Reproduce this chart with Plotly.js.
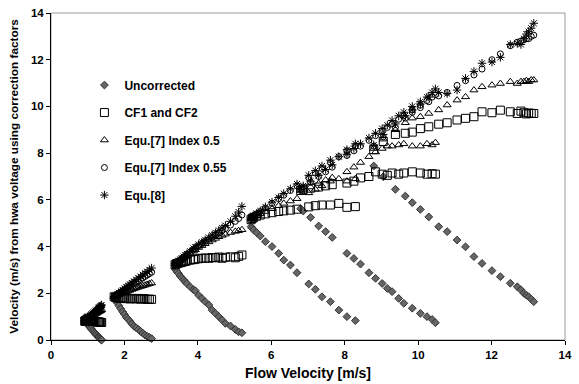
<!DOCTYPE html>
<html><head><meta charset="utf-8">
<script src="https://cdn.plot.ly/plotly-3.0.1.min.js"></script>
<style>html,body{margin:0;padding:0;background:#fff}#chart{width:579px;height:384px}</style>
</head><body><div id="chart"></div>
<script>
// Flow velocity (x) per run, and the five derived velocities per run
const flow1 = [0.92,0.93,0.94,0.95,0.96,0.97,0.98,0.99,1.00,1.02,1.04,1.06,1.08,1.10,1.13,1.16,1.19,1.22,1.25,1.28,1.30,1.32,1.34,1.36,1.38];
const unc1  = [0.96,0.95,0.93,0.92,0.88,0.84,0.80,0.75,0.70,0.64,0.59,0.55,0.51,0.47,0.41,0.35,0.30,0.25,0.20,0.15,0.12,0.09,0.05,0.02,0.00];
const cf1   = [0.80,0.81,0.82,0.82,0.83,0.83,0.84,0.84,0.84,0.85,0.84,0.84,0.83,0.83,0.82,0.81,0.80,0.79,0.78,0.77,0.77,0.76,0.76,0.75,0.75];
const tri1  = [0.84,0.85,0.86,0.86,0.87,0.88,0.89,0.90,0.91,0.93,0.95,0.97,0.99,1.01,1.04,1.07,1.10,1.13,1.16,1.19,1.21,1.23,1.25,1.27,1.29];
const circ1 = [0.85,0.86,0.87,0.87,0.88,0.89,0.90,0.92,0.93,0.96,0.99,1.02,1.05,1.08,1.12,1.16,1.20,1.24,1.28,1.32,1.34,1.37,1.40,1.42,1.44];
const eq8_1 = [0.85,0.86,0.87,0.88,0.89,0.90,0.91,0.93,0.94,0.97,1.00,1.03,1.06,1.10,1.14,1.18,1.22,1.26,1.30,1.35,1.38,1.41,1.44,1.47,1.50];

const flow2 = [1.72,1.76,1.80,1.85,1.90,1.95,2.00,2.05,2.10,2.15,2.20,2.26,2.32,2.38,2.44,2.50,2.56,2.62,2.68,2.74];
const unc2  = [1.78,1.70,1.60,1.47,1.34,1.21,1.10,0.97,0.89,0.80,0.69,0.59,0.52,0.45,0.37,0.29,0.22,0.16,0.11,0.06];
const cf2   = [1.85,1.82,1.80,1.79,1.80,1.78,1.79,1.77,1.78,1.76,1.78,1.77,1.76,1.78,1.75,1.77,1.76,1.74,1.75,1.74];
const tri2  = [1.85,1.88,1.91,1.94,1.97,2.00,2.03,2.07,2.10,2.13,2.16,2.20,2.23,2.26,2.29,2.32,2.35,2.38,2.41,2.44];
const circ2 = [1.86,1.90,1.95,2.00,2.05,2.10,2.15,2.20,2.25,2.30,2.36,2.42,2.48,2.54,2.60,2.66,2.72,2.78,2.84,2.90];
const eq8_2 = [1.86,1.91,1.96,2.02,2.08,2.14,2.20,2.26,2.32,2.38,2.44,2.51,2.58,2.65,2.72,2.79,2.86,2.93,3.00,3.08];

const flow3 = [3.38,3.41,3.43,3.47,3.52,3.56,3.61,3.66,3.70,3.79,3.88,3.93,4.02,4.11,4.20,4.30,4.39,4.48,4.57,4.66,4.75,4.89,5.02,5.11,5.20];
const unc3  = [3.05,2.98,2.92,2.85,2.74,2.66,2.57,2.49,2.42,2.28,2.15,2.11,1.92,1.78,1.64,1.50,1.28,1.14,1.00,0.86,0.71,0.60,0.45,0.35,0.31];
const cf3   = [3.22,3.25,3.27,3.29,3.31,3.33,3.35,3.37,3.39,3.42,3.44,3.46,3.48,3.50,3.51,3.50,3.53,3.52,3.55,3.50,3.54,3.56,3.52,3.58,3.64];
const tri3  = [3.25,3.29,3.31,3.35,3.40,3.45,3.50,3.56,3.60,3.70,3.80,3.86,3.96,4.04,4.12,4.20,4.28,4.35,4.42,4.48,4.53,4.60,4.65,4.68,4.72];
const circ3 = [3.27,3.31,3.33,3.37,3.43,3.48,3.54,3.60,3.65,3.76,3.87,3.93,4.03,4.12,4.22,4.31,4.40,4.50,4.58,4.68,4.77,4.92,5.08,5.20,5.35];
const eq8_3 = [3.27,3.32,3.34,3.38,3.45,3.50,3.57,3.63,3.69,3.80,3.92,3.98,4.09,4.19,4.29,4.39,4.49,4.59,4.69,4.80,4.90,5.08,5.30,5.48,5.72];

const flow4 = [5.45,5.48,5.52,5.60,5.70,5.84,6.02,6.20,6.34,6.52,6.70,7.02,7.20,7.38,7.61,7.84,8.06,8.29];
const unc4  = [4.85,4.78,4.71,4.60,4.45,4.21,4.00,3.71,3.42,3.21,2.88,2.40,2.17,1.85,1.64,1.28,1.00,0.83];
const cf4   = [5.15,5.20,5.25,5.30,5.35,5.40,5.45,5.50,5.53,5.56,5.60,5.70,5.75,5.78,5.78,5.85,5.68,5.71];
const tri4  = [5.20,5.22,5.26,5.32,5.40,5.50,5.62,5.75,5.85,5.95,6.05,6.30,6.45,6.60,6.80,6.90,6.80,6.90];
const circ4 = [5.22,5.26,5.30,5.40,5.50,5.65,5.85,6.05,6.20,6.40,6.60,6.95,7.15,7.35,7.60,7.85,8.10,8.30];
const eq8_4 = [5.22,5.27,5.32,5.42,5.53,5.70,5.90,6.10,6.27,6.47,6.68,7.05,7.25,7.45,7.70,7.85,8.15,8.40];

const flow5 = [6.80,6.87,7.07,7.29,7.48,7.66,8.06,8.25,8.43,8.66,8.84,9.02,9.16,9.29,9.47,9.61,9.84,10.06,10.24,10.38,10.47];
const unc5  = [5.62,5.52,5.25,4.88,4.64,4.39,3.71,3.49,3.25,2.88,2.64,2.42,2.21,2.07,1.78,1.57,1.36,1.14,1.00,0.88,0.74];
const cf5   = [6.40,6.45,6.50,6.55,6.60,6.65,6.72,6.80,6.94,7.00,7.20,7.10,7.05,7.15,7.10,7.15,7.20,7.15,7.10,7.12,7.10];
const tri5  = [6.40,6.45,6.55,6.70,6.85,6.95,7.20,7.40,7.60,7.85,8.05,8.20,8.30,8.30,8.35,8.40,8.30,8.30,8.40,8.35,8.45];
const circ5 = [6.45,6.55,6.75,7.00,7.20,7.40,7.90,8.10,8.30,8.55,8.75,8.95,9.10,9.25,9.45,9.60,9.85,10.05,10.25,10.40,10.50];
const eq8_5 = [6.45,6.60,6.80,7.05,7.30,7.50,7.95,8.20,8.40,8.65,8.85,9.05,9.20,9.40,9.60,9.75,10.00,10.20,10.40,10.60,10.75];

const flow6 = [8.79,9.05,9.38,9.65,9.84,10.06,10.29,10.56,10.79,11.06,11.29,11.52,11.74,12.01,12.24,12.51,12.70,12.80,12.88,12.95,13.01,13.08,13.15];
const unc6  = [7.45,6.99,6.45,6.16,5.88,5.59,5.27,4.85,4.64,4.28,3.99,3.57,3.28,2.97,2.71,2.43,2.28,2.15,2.00,1.92,1.85,1.75,1.64];
const cf6   = [8.15,8.50,8.80,8.85,8.90,9.05,9.13,9.24,9.30,9.42,9.49,9.56,9.77,9.73,9.84,9.77,9.70,9.80,9.73,9.68,9.72,9.70,9.70];
const tri6  = [8.20,8.60,9.00,9.30,9.50,9.56,9.70,9.85,10.06,10.27,10.41,10.70,10.84,10.91,10.98,11.06,10.98,11.06,11.06,11.10,11.06,11.13,11.13];
const circ6 = [8.30,8.70,9.10,9.50,9.75,9.95,10.20,10.45,10.60,10.90,11.10,11.35,11.60,12.00,12.25,12.60,12.75,12.80,12.85,12.90,12.90,13.00,13.05];
const eq8_6 = [8.35,8.80,9.25,9.60,9.85,10.10,10.40,10.60,10.55,10.70,11.20,11.50,11.85,11.90,12.10,12.65,12.70,12.65,12.90,13.10,13.20,13.35,13.56];

const seriesNames = ['Uncorrected','CF1 and CF2','Equ.[7] Index 0.5','Equ.[7] Index 0.55','Equ.[8]'];
const xTicks = [0,2,4,6,8,10,12,14];
const yTicks = [0,2,4,6,8,10,12,14];

const flow = [].concat(flow1,flow2,flow3,flow4,flow5,flow6);
const ys = [
  [].concat(unc1,unc2,unc3,unc4,unc5,unc6),
  [].concat(cf1,cf2,cf3,cf4,cf5,cf6),
  [].concat(tri1,tri2,tri3,tri4,tri5,tri6),
  [].concat(circ1,circ2,circ3,circ4,circ5,circ6),
  [].concat(eq8_1,eq8_2,eq8_3,eq8_4,eq8_5,eq8_6)
];
const markers = [
  {symbol:'diamond', size:6, color:'#666666', line:{color:'#333333', width:1}},
  {symbol:'square-open', size:8, color:'#000000', line:{width:1}},
  {symbol:'triangle-up-open', size:7, color:'#000000', line:{width:1}},
  {symbol:'circle-open', size:6, color:'#000000', line:{width:1}},
  {symbol:'asterisk-open', size:7, color:'#000000', line:{color:'#000000', width:1}}
];
const traces = seriesNames.map((n,i)=>({
  type:'scatter', mode:'markers', name:n, x:flow, y:ys[i], marker:markers[i],
  legendgroup:'g'+i, cliponaxis:false
}));

const font = {family:'Arial, "Liberation Sans", sans-serif', color:'#000'};
const layout = {
  width:579, height:384,
  margin:{l:51, r:14, t:13, b:44},
  paper_bgcolor:'#fff', plot_bgcolor:'#fff',
  font:Object.assign({size:11}, font),
  showlegend:true,
  legend:{x:0.065, y:0.824, xanchor:'left', yanchor:'top', bgcolor:'rgba(0,0,0,0)',
    font:Object.assign({size:12, weight:'bold'}, font), traceorder:'grouped', tracegroupgap:8.5},
  xaxis:{range:[0,14], tickvals:xTicks, ticktext:xTicks.map(String), showgrid:false, zeroline:false,
    showline:true, linecolor:'#000', linewidth:1, ticks:'outside', ticklen:4, tickcolor:'#000',
    tickfont:Object.assign({size:11.5, weight:'bold'}, font),
    title:{text:'<b>Flow Velocity [m/s]</b>', font:Object.assign({size:14}, font), standoff:8}},
  yaxis:{range:[0,14], tickvals:yTicks, ticktext:yTicks.map(String), showgrid:false, zeroline:false,
    showline:true, linecolor:'#000', linewidth:1, ticks:'outside', ticklen:4, tickcolor:'#000',
    tickfont:Object.assign({size:11.5, weight:'bold'}, font),
    title:{text:'<b>Velocity (m/s) from hwa voltage using correction factors</b>', font:Object.assign({size:11.8}, font), standoff:9}},
  shapes:[{type:'rect', xref:'paper', yref:'paper', x0:0, x1:1, y0:0, y1:1, line:{color:'#999999', width:1}, layer:'below'}]
};
Plotly.newPlot('chart', traces, layout, {displayModeBar:false, staticPlot:true});
</script></body></html>
